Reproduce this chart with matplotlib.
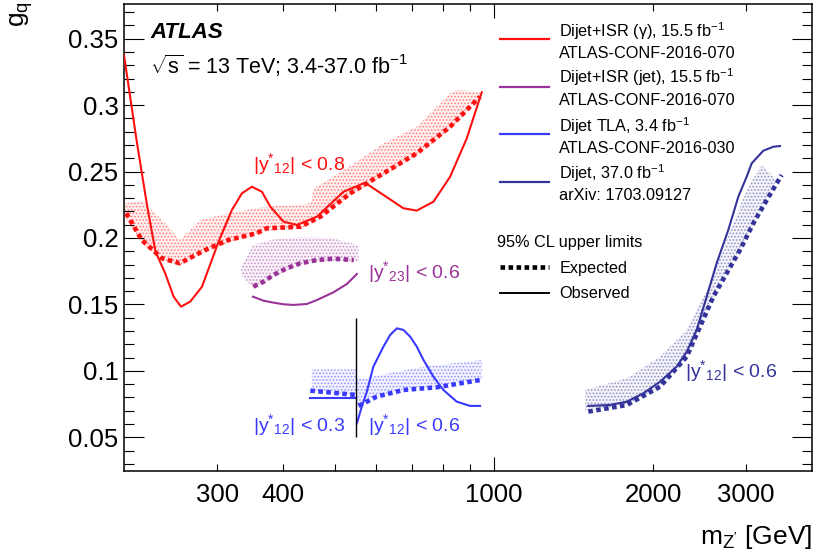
import matplotlib
matplotlib.use("Agg")
import matplotlib.pyplot as plt
from matplotlib.lines import Line2D
import numpy as np

plt.rcParams['font.family'] = ['Liberation Sans', 'DejaVu Sans']
plt.rcParams['mathtext.fontset'] = 'custom'
plt.rcParams['mathtext.rm'] = 'Liberation Sans'
plt.rcParams['mathtext.it'] = 'Liberation Sans:italic'
plt.rcParams['mathtext.bf'] = 'Liberation Sans:bold'
plt.rcParams['mathtext.sf'] = 'Liberation Sans'
plt.rcParams['hatch.linewidth'] = 0.8

# ---------------- data ----------------
# Dijet+ISR (gamma), |y*12| < 0.8
gam_obs_m = [200, 211.2, 221.3, 229.4, 239.3, 248.2, 256.3, 266.8, 280.8, 301.8, 319.9, 334.1, 349, 364.5,
             378, 400.4, 424.4, 463, 520, 571, 618.6, 674.7, 715, 769, 826.9, 889, 949]
gam_obs_g = [0.3377, 0.2738, 0.2236, 0.1897, 0.1734, 0.1558, 0.1483, 0.1521, 0.1633, 0.1972, 0.2211, 0.2336,
             0.2386, 0.2348, 0.2236, 0.2123, 0.2098, 0.2160, 0.2348, 0.2416, 0.2324, 0.2224, 0.2206, 0.2273,
             0.2461, 0.2750, 0.3097]
gam_exp_m = [202, 216, 236, 255, 285, 315, 356, 372, 431, 470, 535, 619, 715, 827, 942]
gam_exp_g = [0.2186, 0.1985, 0.1847, 0.1810, 0.1910, 0.1985, 0.2035, 0.2073, 0.2085, 0.2160, 0.2336,
             0.2487, 0.2637, 0.2838, 0.3064]
gam_band_m = [200, 216, 236, 255, 279, 315, 372, 430, 452, 456, 535, 619, 715, 827, 851, 942]
gam_band_lo = [0.2170, 0.1965, 0.1830, 0.1795, 0.1880, 0.1965, 0.2055, 0.2070, 0.2110, 0.2130, 0.2320,
               0.2470, 0.2620, 0.2820, 0.2870, 0.3050]
gam_band_hi = [0.2260, 0.2280, 0.2136, 0.1985, 0.2136, 0.2186, 0.2236, 0.2250, 0.2265, 0.2370, 0.2540,
               0.2713, 0.2838, 0.3089, 0.3114, 0.3100]

# Dijet+ISR (jet), |y*23| < 0.6
jet_obs_m = [350.6, 367.1, 383.5, 400.4, 418.2, 443.2, 463, 497.7, 527.7, 551]
jet_obs_g = [0.1558, 0.1528, 0.1513, 0.1501, 0.1496, 0.1503, 0.1533, 0.1591, 0.1654, 0.1729]
jet_exp_m = [351.3, 367.1, 383.5, 406.3, 430.6, 463, 497.7, 543.6]
jet_exp_g = [0.1634, 0.1671, 0.1722, 0.1772, 0.1809, 0.1834, 0.1844, 0.1834]
jet_band_m = [333, 351, 384, 431, 491, 555]
jet_band_lo = [0.1720, 0.1620, 0.1710, 0.1800, 0.1830, 0.1825]
jet_band_hi = [0.1790, 0.1947, 0.1990, 0.2005, 0.2000, 0.1947]

# Dijet TLA, |y*12| < 0.3 (low mass) and < 0.6 (high mass)
tla_split_m = 550
tla_split_g = [0.05, 0.14]
tla_lo_obs_m = [450, 550]
tla_lo_obs_g = [0.0798, 0.0798]
tla_lo_exp_m = [450, 550]
tla_lo_exp_g = [0.0851, 0.0818]
tla_lo_band_m = [453, 550]
tla_lo_band_lo = [0.0843, 0.0818]
tla_lo_band_hi = [0.1012, 0.1012]
tla_hi_obs_m = [551, 563, 575.5, 592, 618.6, 636.9, 655.9, 674.7, 695, 715.3, 736.3, 769, 803, 851, 902, 942]
tla_hi_obs_g = [0.0605, 0.0730, 0.0843, 0.1031, 0.1182, 0.1270, 0.1320, 0.1308, 0.1257, 0.1182, 0.1082,
                0.0956, 0.0856, 0.0768, 0.0736, 0.0736]
tla_hi_exp_m = [555, 601, 675, 780, 942]
tla_hi_exp_g = [0.0736, 0.0806, 0.0856, 0.0876, 0.0931]
tla_hi_band_m = [551, 570, 656, 736, 949]
tla_hi_band_lo = [0.0736, 0.0781, 0.0850, 0.0870, 0.0935]
tla_hi_band_hi = [0.0940, 0.0944, 0.0994, 0.1031, 0.1082]

# Dijet 37 fb-1, |y*12| < 0.6
dij_obs_m = [1509, 1658, 1784, 1917, 2062, 2216, 2316, 2418, 2526, 2638, 2775, 2899, 3006, 3073, 3232, 3377, 3475]
dij_obs_g = [0.0736, 0.0743, 0.0768, 0.0831, 0.0918, 0.1031, 0.1144, 0.1308, 0.1558, 0.1810, 0.2060, 0.2311,
             0.2461, 0.2562, 0.2657, 0.2687, 0.2692]
dij_exp_m = [1509, 1784, 2062, 2316, 2454, 2600, 2755, 2920, 3095, 3281, 3500]
dij_exp_g = [0.0693, 0.0743, 0.0881, 0.1107, 0.1333, 0.1558, 0.1734, 0.1910, 0.2111, 0.2286, 0.2474]
dij_band_m = [1488, 1784, 2062, 2316, 2526, 2677, 2836, 3006, 3208, 3425]
dij_band_lo = [0.0700, 0.0743, 0.0881, 0.1107, 0.1450, 0.1650, 0.1830, 0.2000, 0.2220, 0.2436]
dij_band_hi = [0.0856, 0.0944, 0.1107, 0.1308, 0.1609, 0.1859, 0.2111, 0.2361, 0.2550, 0.2436]

x_major = [1000]
x_minor = [300, 400, 500, 600, 700, 800, 900, 2000, 3000]
x_minor_labels = ['300', '400', '', '', '', '', '', '2000', '3000']
y_major = [0.05, 0.1, 0.15, 0.2, 0.25, 0.3, 0.35]
y_major_labels = ['0.05', '0.1', '0.15', '0.2', '0.25', '0.3', '0.35']

legend_entries = [
    ("Dijet+ISR (\u03b3), 15.5 fb$^{-1}$", "ATLAS-CONF-2016-070"),
    ("Dijet+ISR (jet), 15.5 fb$^{-1}$", "ATLAS-CONF-2016-070"),
    ("Dijet TLA, 3.4 fb$^{-1}$", "ATLAS-CONF-2016-030"),
    ("Dijet, 37.0 fb$^{-1}$", "arXiv: 1703.09127"),
]

RED = '#ff1010'
PURPLE = '#993399'
BLUE = '#3a3aff'
DBLUE = '#333399'

# ---------------- figure ----------------
W, H = 816, 558
fig = plt.figure(figsize=(W / 100, H / 100), dpi=100)
L, R, T, B = 124, 812.3, 4.3, 471
ax = fig.add_axes([L / W, 1 - B / H, (R - L) / W, (B - T) / H])
ax.set_xscale('log')
ax.set_xlim(200, 4000)
ax.set_ylim(0.0246, 0.3759)

def fx(px):
    return px / W

def fy(py):
    return 1 - py / H

def band(m, lo, hi, color):
    ax.fill_between(m, lo, hi, facecolor=matplotlib.colors.to_rgba(color, 0.06),
                    edgecolor=matplotlib.colors.to_rgba(color, 0.45), hatch='.....', linewidth=0, zorder=1)

def exp_line(m, g, color):
    ax.plot(m, g, color=color, lw=3.3, linestyle=(0, (1.0, 0.75)), dash_capstyle='butt',
            solid_capstyle='butt', zorder=3)

def obs_line(m, g, color):
    ax.plot(m, g, color=color, lw=1.5, zorder=4, solid_joinstyle='round')

band(gam_band_m, gam_band_lo, gam_band_hi, RED)
band(jet_band_m, jet_band_lo, jet_band_hi, PURPLE)
band(tla_lo_band_m, tla_lo_band_lo, tla_lo_band_hi, BLUE)
band(tla_hi_band_m, tla_hi_band_lo, tla_hi_band_hi, BLUE)
band(dij_band_m, dij_band_lo, dij_band_hi, DBLUE)

exp_line(gam_exp_m, gam_exp_g, RED)
exp_line(jet_exp_m, jet_exp_g, PURPLE)
exp_line(tla_lo_exp_m, tla_lo_exp_g, BLUE)
exp_line(tla_hi_exp_m, tla_hi_exp_g, BLUE)
exp_line(dij_exp_m, dij_exp_g, DBLUE)

obs_line(gam_obs_m, gam_obs_g, RED)
obs_line(jet_obs_m, jet_obs_g, PURPLE)
obs_line(tla_lo_obs_m, tla_lo_obs_g, BLUE)
obs_line(tla_hi_obs_m, tla_hi_obs_g, BLUE)
obs_line(dij_obs_m, dij_obs_g, DBLUE)

ax.vlines(tla_split_m, tla_split_g[0], tla_split_g[1], color='black', lw=1.0, zorder=5)

# ---------------- axes styling ----------------
for s in ax.spines.values():
    s.set_linewidth(1.1)
ax.set_xticks(x_major, labels=['1000'])
ax.set_xticks(x_minor, labels=x_minor_labels, minor=True)
ax.set_yticks(y_major, labels=y_major_labels)
ax.set_yticks(np.round(np.arange(0.03, 0.38, 0.01), 3), minor=True)
ax.tick_params(which='both', direction='in', top=True, right=True, width=0.8, labelsize=18.5)
ax.tick_params(axis='x', which='major', length=10, pad=9)
ax.tick_params(axis='x', which='minor', length=5, pad=9)
ax.tick_params(axis='y', which='major', length=14.6, pad=4)
ax.tick_params(axis='y', which='minor', length=7.4, pad=4)

fig.text(fx(22), fy(1), 'g$_{\\mathrm{q}}$', rotation=90, ha='center', va='top', fontsize=19)
fig.text(fx(812), fy(544), "m$_{\\mathrm{Z'}}$ [GeV]", ha='right', va='baseline', fontsize=19)

# ---------------- annotations ----------------
fig.text(fx(150), fy(38.3), 'ATLAS', fontsize=16, fontweight='bold', fontstyle='italic', va='baseline')
fig.text(fx(150), fy(74), '$\\sqrt{\\mathrm{s}}$ = 13 TeV; 3.4-37.0 fb$^{-1}$', fontsize=15.5, va='baseline')

lab = '|y$^{*}$$_{12}$| < '
fig.text(fx(253), fy(170), lab + '0.8', color=RED, fontsize=14, va='baseline')
fig.text(fx(368), fy(278.3), '|y$^{*}$$_{23}$| < 0.6', color=PURPLE, fontsize=14, va='baseline')
fig.text(fx(253), fy(430.7), lab + '0.3', color=BLUE, fontsize=14, va='baseline')
fig.text(fx(368), fy(430.7), lab + '0.6', color=BLUE, fontsize=14, va='baseline')
fig.text(fx(685), fy(377.3), lab + '0.6', color=DBLUE, fontsize=14, va='baseline')

# ---------------- legend ----------------
leg_colors = [RED, PURPLE, BLUE, DBLUE]
line_y = [39.3, 86.7, 134.3, 182.3]
text_y1 = [37.3, 83.3, 131.7, 179.3]
text_y2 = [58.3, 105, 152.7, 200]
for (t1, t2), c, ly, y1, y2 in zip(legend_entries, leg_colors, line_y, text_y1, text_y2):
    fig.add_artist(Line2D([fx(500), fx(549)], [fy(ly), fy(ly)], color=c, lw=1.6))
    fig.text(fx(559.3), fy(y1), t1, fontsize=11.7, va='baseline')
    fig.text(fx(559.3), fy(y2), t2, fontsize=11.7, va='baseline')

fig.text(fx(496.7), fy(246.7), '95% CL upper limits', fontsize=11.7, va='baseline')
fig.add_artist(Line2D([fx(500), fx(549)], [fy(267.3), fy(267.3)], color='black', lw=3.3,
                      linestyle=(0, (1.0, 0.75)), dash_capstyle='butt'))
fig.text(fx(559.3), fy(273.3), 'Expected', fontsize=11.7, va='baseline')
fig.add_artist(Line2D([fx(500), fx(549)], [fy(292.7), fy(292.7)], color='black', lw=1.4))
fig.text(fx(559.3), fy(298.3), 'Observed', fontsize=11.7, va='baseline')

fig.savefig('out.png', dpi=100)
